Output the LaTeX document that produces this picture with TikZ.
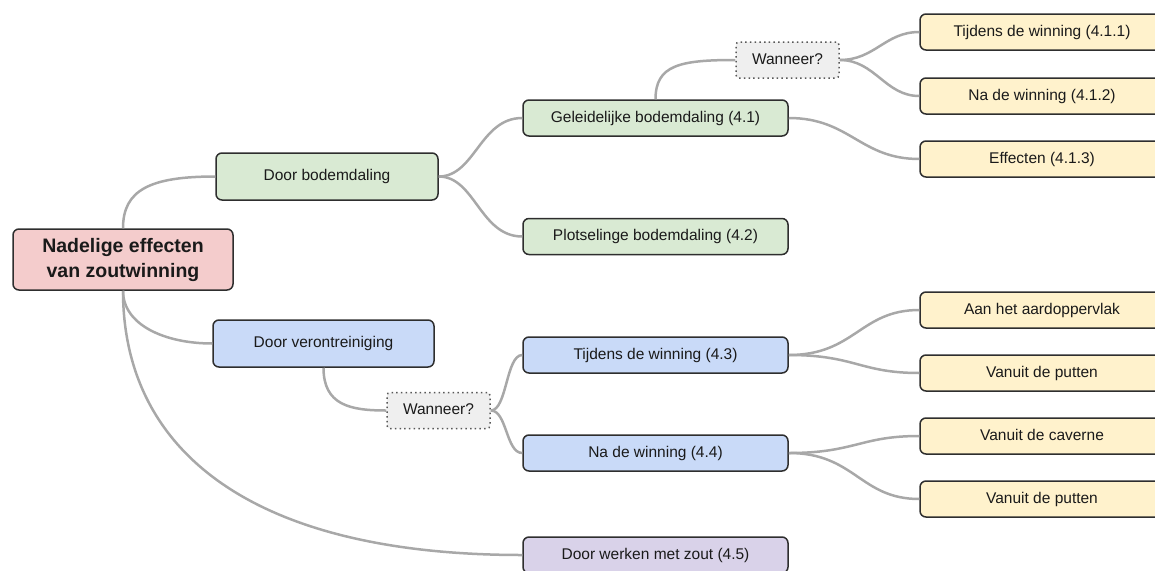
\documentclass[tikz,border=0pt]{standalone}
\usepackage{fontspec}
\setmainfont{Liberation Sans}
\definecolor{cgreen}{HTML}{D9EAD3}
\definecolor{cblue}{HTML}{C9DAF8}
\definecolor{cpink}{HTML}{F4CCCC}
\definecolor{cyellow}{HTML}{FFF2CC}
\definecolor{cpurple}{HTML}{D9D2E9}
\definecolor{cgrey}{HTML}{EFEFEF}
\definecolor{cline}{HTML}{A8A8A8}
\definecolor{cborder}{HTML}{2E2E2E}
\definecolor{ctext}{HTML}{1A1A1A}
\tikzset{
  box/.style={draw=cborder, line width=1.5pt, rounded corners=6pt, inner sep=0pt,
    text=ctext, font=\fontsize{15.5}{18}\selectfont, align=center,
    text height=11.5pt, text depth=3pt},
  rootbox/.style={box, fill=cpink, minimum width=220pt, minimum height=61pt,
    font=\fontsize{19.5}{24}\selectfont\bfseries, text height=, text depth=},
  mainbox/.style={box, minimum width=222pt, minimum height=47pt},
  midbox/.style={box, minimum width=265pt, minimum height=36pt},
  leafbox/.style={box, fill=cyellow, minimum width=244pt, minimum height=36pt},
  askbox/.style={box, fill=cgrey, draw=cborder!80, line width=1.5pt,
    dash pattern=on 1.5pt off 3.2pt, rounded corners=3pt,
    minimum width=103pt, minimum height=36pt},
  link/.style={draw=cline, line width=2.5pt},
}
\begin{document}
\begin{tikzpicture}[x=1pt,y=-1pt]
\useasboundingbox (0,0) rectangle (1155,570);
\begin{scope}
\clip (0,0) rectangle (1155,570);
% nodes
\node[rootbox] (root) at (123,259.5) {Nadelige effecten\\[1pt]van zoutwinning};
\node[mainbox, fill=cgreen] (bod) at (327,176.5) {Door bodemdaling};
\node[mainbox, fill=cblue, minimum width=221pt] (ver) at (323.5,343.5) {Door verontreiniging};
\node[midbox, fill=cgreen] (gel) at (655.5,118) {Geleidelijke bodemdaling (4.1)};
\node[midbox, fill=cgreen] (plo) at (655.5,236.5) {Plotselinge bodemdaling (4.2)};
\node[askbox] (w1) at (787.5,60) {Wanneer?};
\node[leafbox] (l1) at (1042,32) {Tijdens de winning (4.1.1)};
\node[leafbox] (l2) at (1042,96) {Na de winning (4.1.2)};
\node[leafbox] (l3) at (1042,159) {Effecten (4.1.3)};
\node[askbox] (w2) at (438.5,410.5) {Wanneer?};
\node[midbox, fill=cblue] (tij) at (655.5,355) {Tijdens de winning (4.3)};
\node[midbox, fill=cblue] (na) at (655.5,453) {Na de winning (4.4)};
\node[leafbox] (l4) at (1042,310) {Aan het aardoppervlak};
\node[leafbox] (l5) at (1042,373) {Vanuit de putten};
\node[leafbox] (l6) at (1042,436) {Vanuit de caverne};
\node[leafbox] (l7) at (1042,499) {Vanuit de putten};
\node[midbox, fill=cpurple] (zout) at (655.5,555) {Door werken met zout (4.5)};
% connectors
\path[link] (root.north) .. controls (123,190) and (150,176.5) .. (bod.west);
\path[link] (root.south) .. controls (123,325) and (165,343.5) .. (ver.west);
\path[link] (root.south) .. controls (123,450) and (250,555) .. (zout.west);
\path[link] (bod.east) .. controls (475,176.5) and (480,118) .. (gel.west);
\path[link] (bod.east) .. controls (475,176.5) and (480,236.5) .. (plo.west);
\path[link] (gel.north) .. controls (655.5,65) and (680,60) .. (w1.west);
\path[link] (w1.east) .. controls (875,60) and (885,32) .. (l1.west);
\path[link] (w1.east) .. controls (875,60) and (885,96) .. (l2.west);
\path[link] (gel.east) .. controls (850,118) and (860,159) .. (l3.west);
\path[link] (ver.south) .. controls (323.5,405) and (350,410.5) .. (w2.west);
\path[link] (w2.east) .. controls (507,410.5) and (506,355) .. (tij.west);
\path[link] (w2.east) .. controls (507,410.5) and (506,453) .. (na.west);
\path[link] (tij.east) .. controls (855,355) and (860,310) .. (l4.west);
\path[link] (tij.east) .. controls (855,355) and (860,373) .. (l5.west);
\path[link] (na.east) .. controls (855,453) and (860,436) .. (l6.west);
\path[link] (na.east) .. controls (855,453) and (860,499) .. (l7.west);
\end{scope}
\end{tikzpicture}
\end{document}
